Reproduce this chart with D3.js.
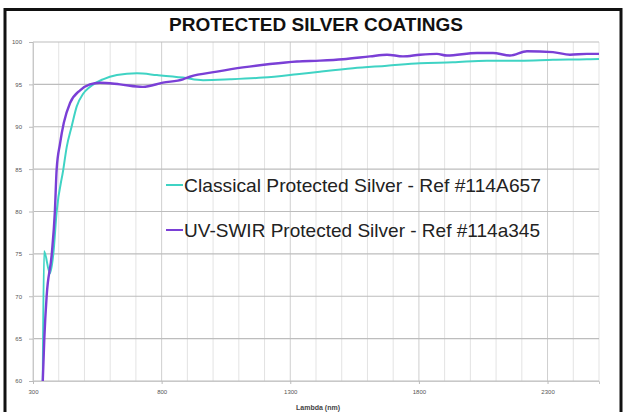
<!DOCTYPE html>
<html>
<head>
<meta charset="UTF-8" />
<style>
  body { margin: 0; background: #fff; }
  svg { display: block; font-family: Arial, "Liberation Sans", sans-serif; }
  .grid-minor { stroke: #e3e3e3; stroke-width: 1px; }
  .grid-major { stroke: #cfcfcf; stroke-width: 1px; }
  .grid-h { stroke: #bdbdbd; stroke-width: 1.2px; }
  .tick-label { font-size: 6px; fill: #555; }
</style>
<script src="https://cdn.jsdelivr.net/npm/d3@7"></script>
</head>
<body>
<svg width="625" height="412"></svg>
<script>
// data
var title = "PROTECTED SILVER COATINGS";
var xTicks = [300, 800, 1300, 1800, 2300];
var yTicks = [60, 65, 70, 75, 80, 85, 90, 95, 100];

var classicalName = "Classical Protected Silver - Ref #114A657";
var classicalNm = [338, 343, 366, 379, 392, 418, 431, 450, 470, 495, 521, 572, 626, 704, 782, 883, 961, 1066, 1194, 1326, 1415, 1544, 1676, 1804, 1932, 2064, 2193, 2321, 2453, 2500];
var classicalR = [60, 75.3, 72.7, 75, 80, 85, 87.6, 90, 92.4, 93.9, 94.7, 95.6, 96.1, 96.3, 96.1, 95.8, 95.5, 95.6, 95.8, 96.2, 96.5, 96.9, 97.2, 97.5, 97.6, 97.8, 97.8, 97.9, 97.96, 98.0];

var uvName = "UV-SWIR Protected Silver - Ref #114a345";
var uvNm = [338, 344, 353, 373, 385, 392, 405, 420, 444, 483, 521, 560, 638, 727, 805, 883, 910, 1015, 1116, 1221, 1326, 1415, 1505, 1610, 1676, 1738, 1804, 1870, 1909, 2026, 2088, 2154, 2220, 2321, 2387, 2453, 2500];
var uvR = [60, 65, 70, 75, 80, 85, 88, 90.5, 92.8, 94.3, 95.0, 95.2, 95.0, 94.7, 95.2, 95.6, 95.9, 96.5, 97.0, 97.4, 97.7, 97.8, 97.96, 98.3, 98.5, 98.3, 98.5, 98.6, 98.4, 98.7, 98.7, 98.4, 98.9, 98.8, 98.5, 98.6, 98.6];

var teal = "#3fd3c4";
var purple = "#7a3fd6";

var svg = d3.select("svg");

// outer frame
svg.append("rect")
  .attr("x", 5).attr("y", 9.5)
  .attr("width", 616).attr("height", 420)
  .attr("fill", "none").attr("stroke", "#111").attr("stroke-width", 3);

svg.append("text")
  .attr("x", 316).attr("y", 31)
  .attr("text-anchor", "middle")
  .style("font-size", "19px").style("font-weight", "bold").style("fill", "#111")
  .text(title);

var x = d3.scaleLinear().domain([300, 2500]).range([33, 599]);
var y = d3.scaleLinear().domain([60, 100]).range([381, 42]);

var g = svg.append("g");

// vertical gridlines every 100 nm
g.selectAll("line.v")
  .data(d3.range(300, 2501, 100))
  .enter().append("line")
  .attr("class", (d) => (d - 300) % 500 == 0 ? "grid-major" : "grid-minor")
  .attr("x1", (d) => x(d)).attr("x2", (d) => x(d))
  .attr("y1", y(100)).attr("y2", y(60));

// horizontal gridlines
g.selectAll("line.h")
  .data(yTicks)
  .enter().append("line")
  .attr("class", "grid-h")
  .attr("x1", x(300)).attr("x2", x(2500))
  .attr("y1", (d) => y(d)).attr("y2", (d) => y(d));

// axes
var yAxis = d3.axisLeft(y).tickValues(yTicks).tickSize(4).tickPadding(7);
var xAxis = d3.axisBottom(x).tickValues(xTicks).tickFormat(d3.format("d")).tickSize(3).tickPadding(6);

var gy = svg.append("g").attr("transform", "translate(" + x(300) + ",0)").call(yAxis);
var gx = svg.append("g").attr("transform", "translate(0," + y(60) + ")").call(xAxis);
[gy, gx].forEach((a) => {
  a.select(".domain").attr("stroke", "#c8c8c8");
  a.selectAll(".tick line").attr("stroke", "#bbb");
  a.selectAll(".tick text").attr("class", "tick-label").attr("font-family", null).attr("font-size", null);
});

svg.append("text")
  .attr("x", 318).attr("y", 410)
  .attr("text-anchor", "middle")
  .style("font-size", "7px").style("font-weight", "bold").style("fill", "#444")
  .text("Lambda (nm)");

// curves
var line = d3.line().x((d) => x(d[0])).y((d) => y(d[1])).curve(d3.curveMonotoneX);

svg.append("path")
  .datum(classicalNm.map((d, i) => [d, classicalR[i]]))
  .attr("d", line)
  .attr("fill", "none").attr("stroke", teal).attr("stroke-width", 2);

svg.append("path")
  .datum(uvNm.map((d, i) => [d, uvR[i]]))
  .attr("d", line)
  .attr("fill", "none").attr("stroke", purple).attr("stroke-width", 2.4);

// legend
var legend = [
  { name: classicalName, color: teal, y: 185, w: 357 },
  { name: uvName, color: purple, y: 230, w: 356 }
];
var lg = svg.append("g").selectAll("g").data(legend).enter().append("g");
lg.append("line")
  .attr("x1", 166).attr("x2", 183)
  .attr("y1", (d) => d.y).attr("y2", (d) => d.y)
  .attr("stroke", (d) => d.color).attr("stroke-width", 2);
lg.append("text")
  .attr("x", 184).attr("y", (d) => d.y + 7)
  .attr("textLength", (d) => d.w).attr("lengthAdjust", "spacingAndGlyphs")
  .style("font-size", "19px").style("fill", "#222")
  .text((d) => d.name);
</script>
</body>
</html>
